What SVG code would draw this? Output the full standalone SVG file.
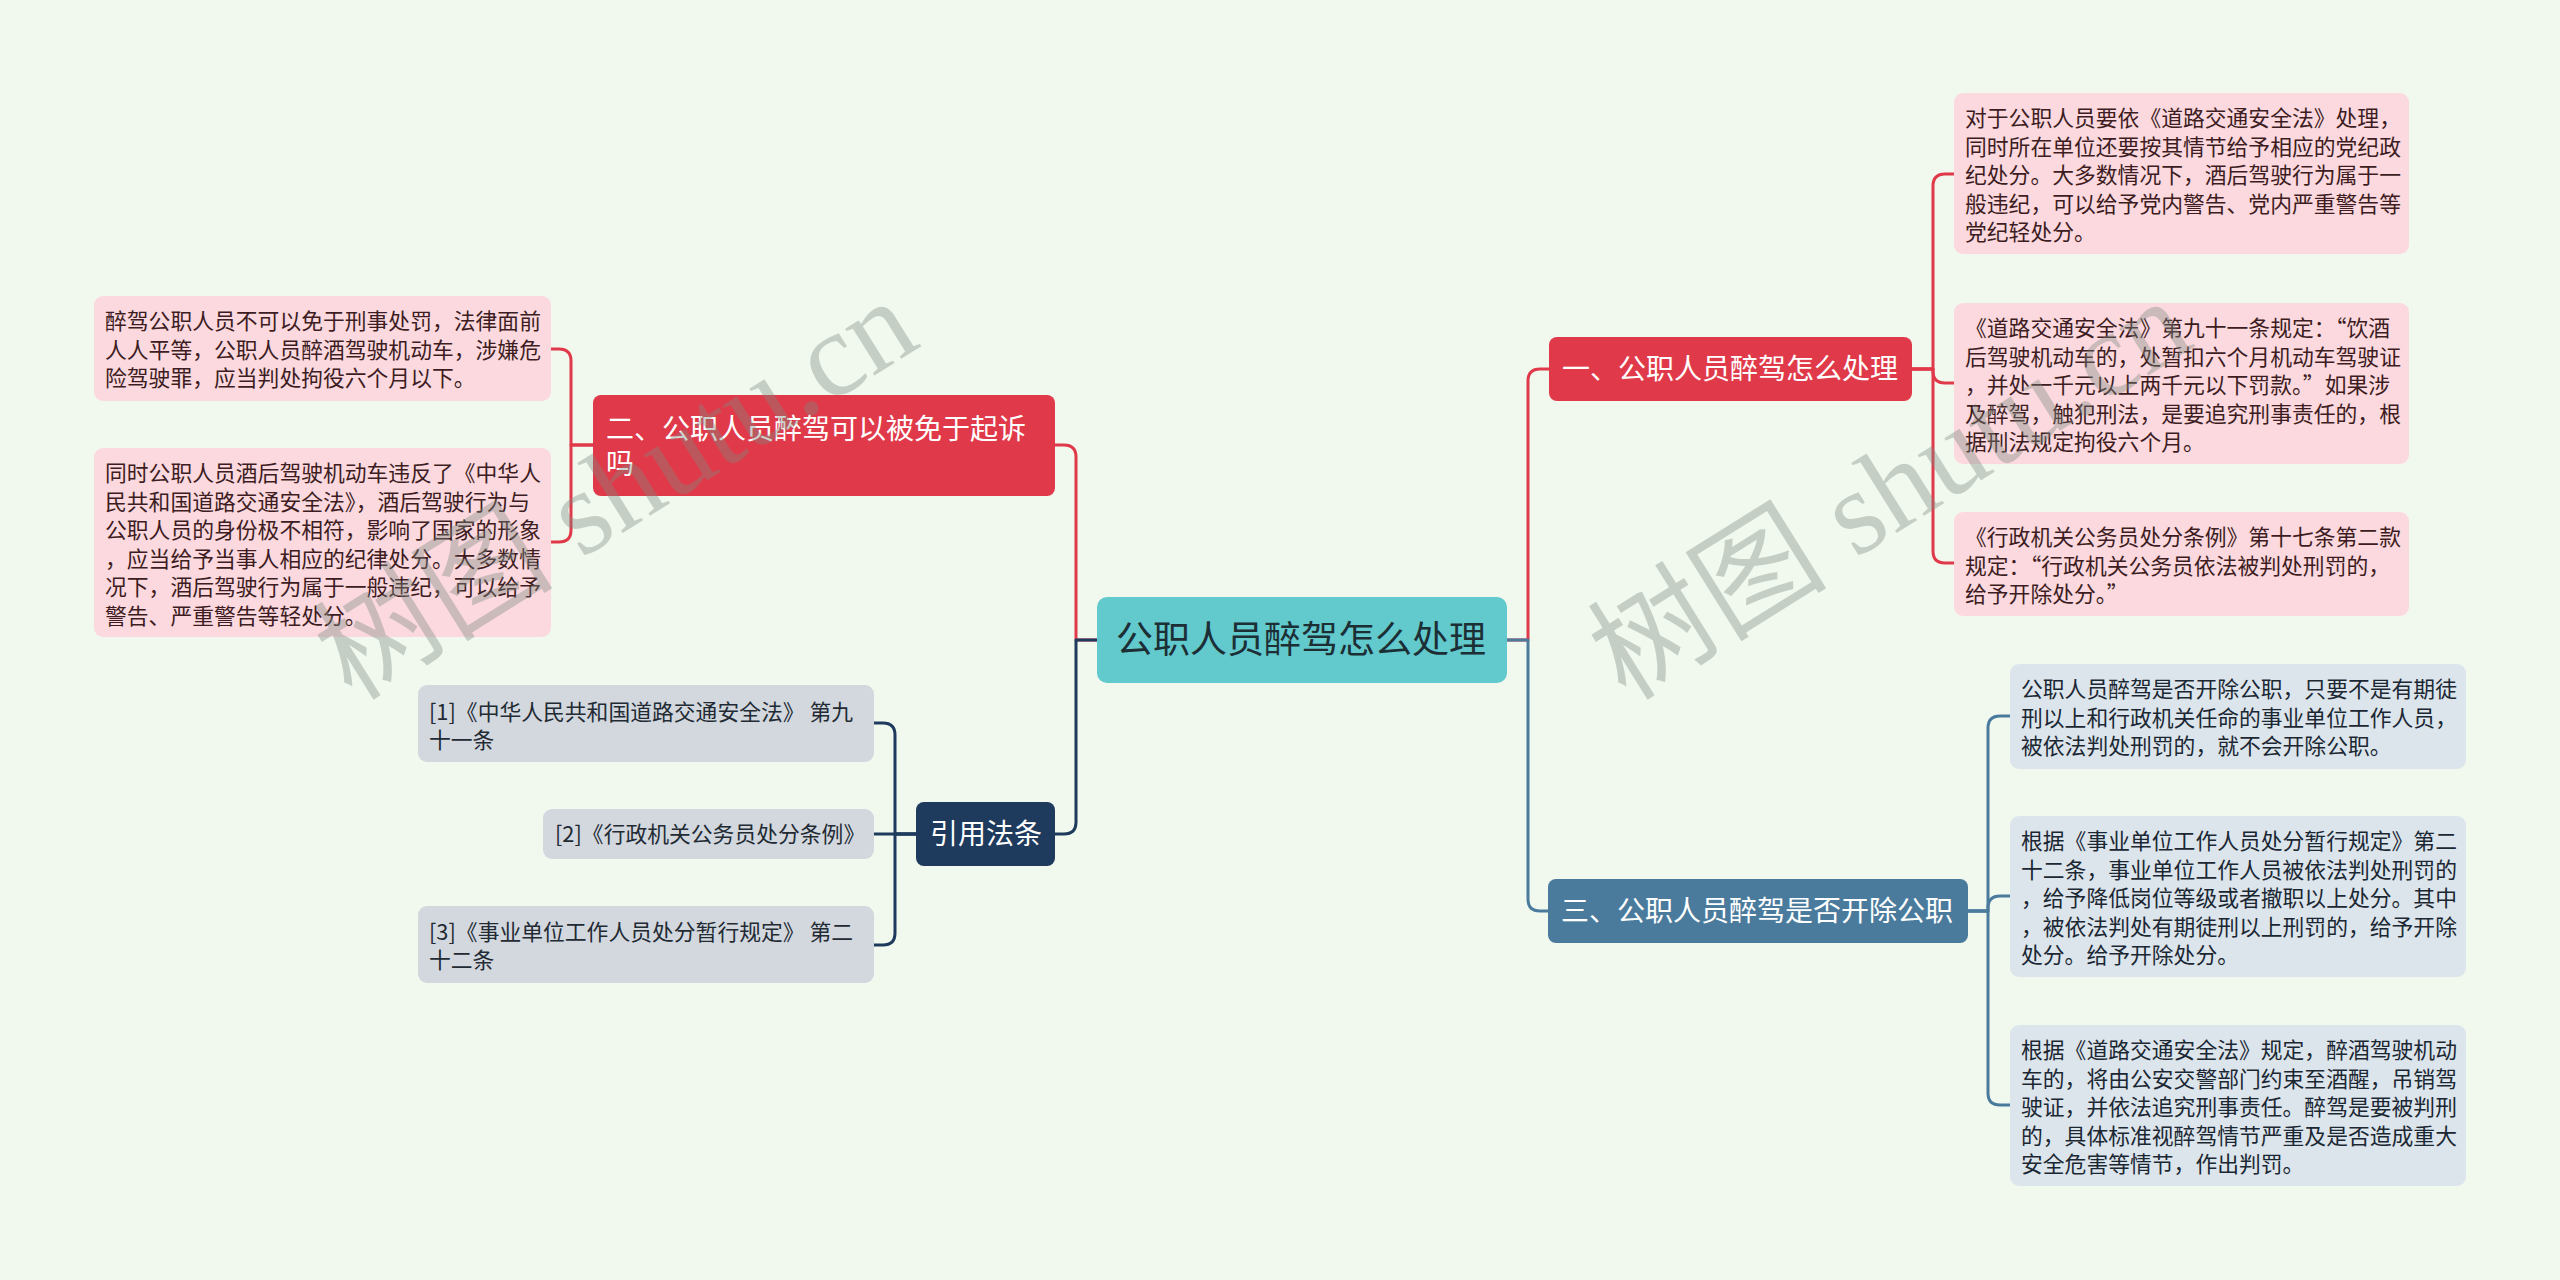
<svg xmlns="http://www.w3.org/2000/svg" width="2560" height="1280" viewBox="0 0 2560 1280">
<style>
text{font-family:"Noto Sans CJK SC","Noto Sans",sans-serif;}
.c{fill:none;stroke-width:3;stroke-linecap:round;stroke-linejoin:round;}
.red{stroke:#e03a4a;}
.blue{stroke:#4a7b9d;}
.navy{stroke:#1e3a5c;}
.pink{fill:#fbd9de;}
.pale{fill:#dce5ec;}
.grey{fill:#d3d8df;}
.pt{font-size:21.8px;fill:#3d1c22;}
.bt{font-size:21.8px;fill:#1b2733;}
.gt{font-size:21.8px;fill:#222a33;}
.ht{font-size:28px;fill:#ffffff;}
.wm{font-family:"Liberation Serif","Noto Sans CJK SC",serif;font-size:120px;fill:#7f8a80;fill-opacity:0.38;}
</style>
<rect width="2560" height="1280" fill="#f1f9ef"/>
<g id="connectors">
<path class="c red" d="M1507,640 H1528 V381 Q1528,369 1540,369 H1549"/>
<path class="c blue" d="M1507,640 H1528 V899 Q1528,911 1540,911 H1548"/>
<path class="c red" d="M1912,369 H1933 V186 Q1933,174 1945,174 H1954"/>
<path class="c red" d="M1912,369 H1933 V371 Q1933,383 1945,383 H1954"/>
<path class="c red" d="M1912,369 H1933 V551 Q1933,563 1945,563 H1954"/>
<path class="c blue" d="M1968,911 H1988 V728 Q1988,716 2000,716 H2010"/>
<path class="c blue" d="M1968,911 H1988 V908 Q1988,896 2000,896 H2010"/>
<path class="c blue" d="M1968,911 H1988 V1093 Q1988,1105 2000,1105 H2010"/>
<path class="c red" d="M1097,640 H1076 V457 Q1076,445 1064,445 H1055"/>
<path class="c navy" d="M1097,640 H1076 V822 Q1076,834 1064,834 H1055"/>
<path class="c red" d="M593,445 H571 V361 Q571,349 559,349 H551"/>
<path class="c red" d="M593,445 H571 V530 Q571,542 559,542 H551"/>
<path class="c navy" d="M916,834 H895 V735 Q895,723 883,723 H874"/>
<path class="c navy" d="M916,834 H874"/>
<path class="c navy" d="M916,834 H895 V933 Q895,945 883,945 H874"/>
</g>
<g id="root">
<rect x="1097" y="597" width="410" height="86" rx="10" fill="#62c9cd"/>
<text x="1116" y="653" style="font-size:37px;fill:#1c2f35;">公职人员醉驾怎么处理</text>
</g>
<g id="b1">
<rect x="1549" y="337" width="363" height="64" rx="8" fill="#e03a4a"/>
<text class="ht" x="1562" y="379">一、公职人员醉驾怎么处理</text>
</g>
<g id="b1a">
<rect class="pink" x="1954" y="93" width="455" height="161" rx="9"/>
<text class="pt" x="1965"><tspan x="1965" y="126">对于公职人员要依《道路交通安全法》处理，</tspan><tspan x="1965" y="154.5">同时所在单位还要按其情节给予相应的党纪政</tspan><tspan x="1965" y="183">纪处分。大多数情况下，酒后驾驶行为属于一</tspan><tspan x="1965" y="211.5">般违纪，可以给予党内警告、党内严重警告等</tspan><tspan x="1965" y="240">党纪轻处分。</tspan></text>
</g>
<g id="b1b">
<rect class="pink" x="1954" y="303" width="455" height="161" rx="9"/>
<text class="pt"><tspan x="1965" y="336">《道路交通安全法》第九十一条规定：“饮酒</tspan><tspan x="1965" y="364.5">后驾驶机动车的，处暂扣六个月机动车驾驶证</tspan><tspan x="1965" y="393">，并处一千元以上两千元以下罚款。”如果涉</tspan><tspan x="1965" y="421.5">及醉驾，触犯刑法，是要追究刑事责任的，根</tspan><tspan x="1965" y="450">据刑法规定拘役六个月。</tspan></text>
</g>
<g id="b1c">
<rect class="pink" x="1954" y="512" width="455" height="104" rx="9"/>
<text class="pt"><tspan x="1965" y="545">《行政机关公务员处分条例》第十七条第二款</tspan><tspan x="1965" y="573.5">规定：“行政机关公务员依法被判处刑罚的，</tspan><tspan x="1965" y="602">给予开除处分。”</tspan></text>
</g>
<g id="b3">
<rect x="1548" y="879" width="420" height="64" rx="8" fill="#4a7b9d"/>
<text class="ht" x="1561" y="921">三、公职人员醉驾是否开除公职</text>
</g>
<g id="b3a">
<rect class="pale" x="2010" y="664" width="456" height="105" rx="9"/>
<text class="bt"><tspan x="2021" y="697">公职人员醉驾是否开除公职，只要不是有期徒</tspan><tspan x="2021" y="725.5">刑以上和行政机关任命的事业单位工作人员，</tspan><tspan x="2021" y="754">被依法判处刑罚的，就不会开除公职。</tspan></text>
</g>
<g id="b3b">
<rect class="pale" x="2010" y="816" width="456" height="161" rx="9"/>
<text class="bt"><tspan x="2021" y="849">根据《事业单位工作人员处分暂行规定》第二</tspan><tspan x="2021" y="877.5">十二条，事业单位工作人员被依法判处刑罚的</tspan><tspan x="2021" y="906">，给予降低岗位等级或者撤职以上处分。其中</tspan><tspan x="2021" y="934.5">，被依法判处有期徒刑以上刑罚的，给予开除</tspan><tspan x="2021" y="963">处分。给予开除处分。</tspan></text>
</g>
<g id="b3c">
<rect class="pale" x="2010" y="1025" width="456" height="161" rx="9"/>
<text class="bt"><tspan x="2021" y="1058">根据《道路交通安全法》规定，醉酒驾驶机动</tspan><tspan x="2021" y="1086.5">车的，将由公安交警部门约束至酒醒，吊销驾</tspan><tspan x="2021" y="1115">驶证，并依法追究刑事责任。醉驾是要被判刑</tspan><tspan x="2021" y="1143.5">的，具体标准视醉驾情节严重及是否造成重大</tspan><tspan x="2021" y="1172">安全危害等情节，作出判罚。</tspan></text>
</g>
<g id="b2">
<rect x="593" y="395" width="462" height="101" rx="8" fill="#e03a4a"/>
<text class="ht"><tspan x="606" y="439">二、公职人员醉驾可以被免于起诉</tspan><tspan x="606" y="474">吗</tspan></text>
</g>
<g id="b2a">
<rect class="pink" x="94" y="296" width="457" height="105" rx="9"/>
<text class="pt"><tspan x="105" y="329">醉驾公职人员不可以免于刑事处罚，法律面前</tspan><tspan x="105" y="357.5">人人平等，公职人员醉酒驾驶机动车，涉嫌危</tspan><tspan x="105" y="386">险驾驶罪，应当判处拘役六个月以下。</tspan></text>
</g>
<g id="b2b">
<rect class="pink" x="94" y="448" width="457" height="189" rx="9"/>
<text class="pt"><tspan x="105" y="481">同时公职人员酒后驾驶机动车违反了《中华人</tspan><tspan x="105" y="509.5">民共和国道路交通安全法》，酒后驾驶行为与</tspan><tspan x="105" y="538">公职人员的身份极不相符，影响了国家的形象</tspan><tspan x="105" y="566.5">，应当给予当事人相应的纪律处分。大多数情</tspan><tspan x="105" y="595">况下，酒后驾驶行为属于一般违纪，可以给予</tspan><tspan x="105" y="623.5">警告、严重警告等轻处分。</tspan></text>
</g>
<g id="b4">
<rect x="916" y="802" width="139" height="64" rx="8" fill="#1e3a5c"/>
<text class="ht" x="930" y="844">引用法条</text>
</g>
<g id="r1">
<rect class="grey" x="418" y="685" width="456" height="77" rx="9"/>
<text class="gt"><tspan x="429" y="720">[1]《中华人民共和国道路交通安全法》 第九</tspan><tspan x="429" y="747.5">十一条</tspan></text>
</g>
<g id="r2">
<rect class="grey" x="543" y="809" width="331" height="50" rx="9"/>
<text class="gt" x="555" y="842">[2]《行政机关公务员处分条例》</text>
</g>
<g id="r3">
<rect class="grey" x="418" y="906" width="456" height="77" rx="9"/>
<text class="gt"><tspan x="429" y="940">[3]《事业单位工作人员处分暂行规定》 第二</tspan><tspan x="429" y="967.5">十二条</tspan></text>
</g>
<text class="wm" transform="translate(352,702) rotate(-32)">树图 shutu.cn</text>
<text class="wm" transform="translate(1626,702) rotate(-32)">树图 shutu.cn</text>
</svg>
